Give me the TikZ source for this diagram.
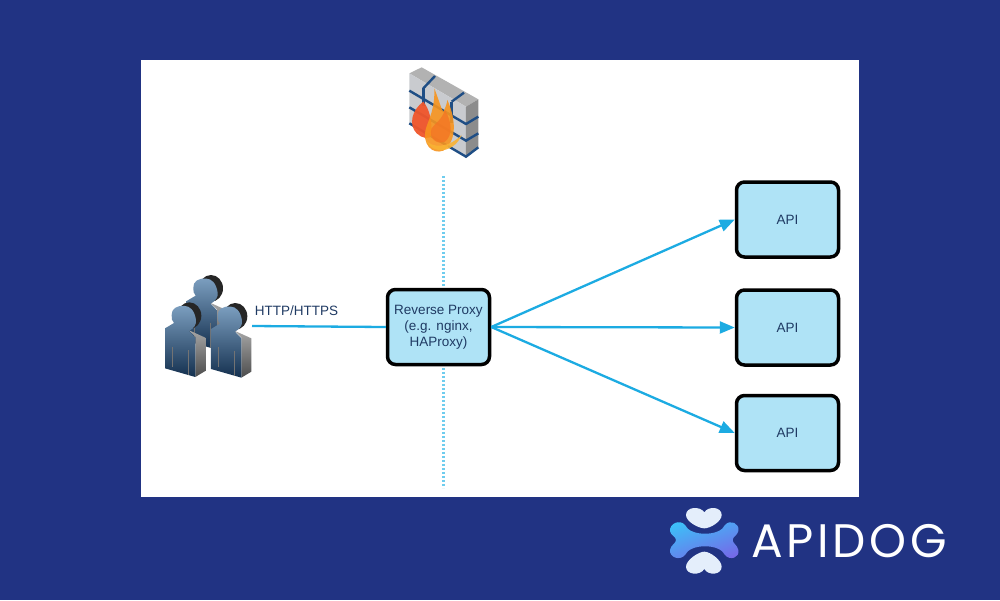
\documentclass[tikz,border=0pt]{standalone}
\usepackage{fontspec}
\setmainfont{Liberation Sans}
\newfontfamily\logofont[LetterSpace=8]{Poppins}
\usetikzlibrary{arrows.meta}

\definecolor{navy}{HTML}{213383}
\definecolor{linkblue}{HTML}{1CABE2}
\definecolor{dotblue}{HTML}{6FCDEE}
\definecolor{boxblue}{HTML}{AFE3F6}
\definecolor{textblue}{HTML}{1F3A63}
\definecolor{brick}{HTML}{C9CBCF}
\definecolor{brickline}{HTML}{1F4E85}
\definecolor{personlight}{HTML}{7C9FC0}
\definecolor{persondark}{HTML}{14304F}
\definecolor{flamered}{HTML}{F0562B}
\definecolor{flameorange}{HTML}{F7941E}
\definecolor{flameyellow}{HTML}{F9B233}
\definecolor{bonecyan}{HTML}{3DBFF8}
\definecolor{boneviolet}{HTML}{7569E8}
\definecolor{heartpale}{HTML}{E4EEFB}

\begin{document}
\begin{tikzpicture}[
    x=1pt, y=-1pt,
    box/.style={draw=black,fill=boxblue,rounded corners=8pt,line width=3.5pt,minimum width=102pt,minimum height=75pt,align=center,text=textblue,font=\fontsize{13.5}{16}\selectfont},
    link/.style={draw=linkblue,line width=2.3pt},
    arrow/.style={link,-{Triangle[length=15pt,width=12pt]}},
    mortar/.style={draw=brickline,line width=2.4pt},
    person/.pic={
        % extruded side, then the front
        \fill[black!85] (18,-8) ellipse [x radius=36, y radius=40];
        \shade[top color=black!35,bottom color=black!70] (15,35) -- (66,58) -- (66,158) -- (36,176) -- (36,55) -- cycle;
        \shade[top color=personlight,bottom color=persondark] (-28,14) -- (-55,30) -- (-55,150) -- (36,176) -- (36,58) -- (17,38)
            .. controls (32,30) and (40,18) .. (38,5)
            .. controls (34,-25) and (18,-37) .. (5,-37)
            .. controls (-20,-40) and (-36,-28) .. (-35,-10)
            .. controls (-36,0) and (-34,8) .. cycle;
        \draw[black!55,line width=.5pt] (-32,85) -- (-32,145) (16,95) -- (16,170);
    }
]
    % Canvas
    \useasboundingbox (0,0) rectangle (1000,600);
    \fill[navy] (0,0) rectangle (1000,600);
    \fill[white] (141,60) rectangle (859,497);

    %%%%%%%%%%%%%%%%%%%%%%%%%%%%%%%%%%%%%%%%%%%%%%%%%%%%%%%%%%%%%%%%%%%%%%%%%%%%%%%%%%%%

    % Dotted boundary, passes behind the proxy
    \coordinate (walltop) at (443,176);
    \coordinate (wallbottom) at (443,488);
    \draw[draw=dotblue,line width=3pt,dash pattern=on 2pt off 2pt] (walltop) -- (wallbottom);

    % Firewall
    \begin{scope}[shift={(390,60)},x=.3333pt,y=-.3333pt]
        \fill[black!30] (58,40) -- (95,22) -- (265,118) -- (228,140) -- cycle;
        \fill[brick] (58,40) -- (228,140) -- (228,290) -- (58,190) -- cycle;
        \fill[black!45] (228,140) -- (265,118) -- (265,262) -- (228,290) -- cycle;
        % courses of bricks
        \foreach \d in {52, 102} {
            \draw[mortar] (58,40+\d) -- (228,140+\d) -- (265,118+\d);
        }
        \draw[mortar] (58,190) -- (228,290) -- (265,262);
        \draw[mortar] (100,85) -- (135,48);
        \draw[mortar] (185,125) -- (222,98);
        \draw[mortar] (100,85) -- (100,138);
        \draw[mortar] (185,125) -- (185,190);
        % flames
        \fill[flamered,opacity=.95] (100,125) .. controls (65,150) and (55,195) .. (80,220) .. controls (95,235) and (120,240) .. (125,225) .. controls (125,180) and (120,150) .. cycle;
        \fill[flameorange,opacity=.9] (133,85) .. controls (150,130) and (155,150) .. (160,155) .. controls (165,145) and (170,135) .. (172,120) .. controls (195,170) and (205,240) .. (160,272) .. controls (125,285) and (95,250) .. (108,205) .. controls (115,180) and (135,150) .. cycle;
        \fill[flamered!50!flameorange,opacity=.8] (165,150) .. controls (185,185) and (190,225) .. (165,245) .. controls (140,255) and (115,235) .. (125,205) .. controls (135,190) and (155,180) .. cycle;
        \fill[flameyellow,opacity=.9] (215,225) .. controls (195,275) and (130,290) .. (108,240) .. controls (125,265) and (175,265) .. cycle;
    \end{scope}

    % People
    \begin{scope}[shift={(150,265)},x=.3333pt,y=-.3333pt]
        \pic at (165,78) {person};
        \pic at (100,160) {person};
        \pic at (238,162) {person};
    \end{scope}

    %%%%%%%%%%%%%%%%%%%%%%%%%%%%%%%%%%%%%%%%%%%%%%%%%%%%%%%%%%%%%%%%%%%%%%%%%%%%%%%%%%%%

    % Proxy and backends
    \coordinate (client) at (252,326);
    \node[box] (proxy) at (438.5,327) {Reverse Proxy\\(e.g. nginx,\\HAProxy)};
    \node[text=textblue,font=\fontsize{13.5}{16}\selectfont] (http) at (296.5,311) {HTTP/HTTPS};
    \draw[link] (client) -- (proxy.west);

    \foreach \n/\y in {1/219.5, 2/327.5, 3/433} {
        \node[box] (api\n) at (787.5,\y) {API};
        \draw[arrow] (proxy.east) -- (api\n.west);
    }

    %%%%%%%%%%%%%%%%%%%%%%%%%%%%%%%%%%%%%%%%%%%%%%%%%%%%%%%%%%%%%%%%%%%%%%%%%%%%%%%%%%%%

    % Logo
    \begin{scope}[shift={(650,495)},x=.3333pt,y=-.3333pt]
        \shade[left color=bonecyan,right color=boneviolet,shading angle=20]
            (105,90) .. controls (120,125) and (210,125) .. (225,90)
            .. controls (240,72) and (270,85) .. (265,108)
            .. controls (262,122) and (248,125) .. (248,135)
            .. controls (248,145) and (262,150) .. (265,165)
            .. controls (270,188) and (240,198) .. (225,180)
            .. controls (210,145) and (120,145) .. (105,180)
            .. controls (90,198) and (58,188) .. (60,165)
            .. controls (62,150) and (78,145) .. (78,135)
            .. controls (78,125) and (62,122) .. (60,108)
            .. controls (58,85) and (90,72) .. cycle;
        \fill[heartpale] (163,52) .. controls (175,32) and (215,35) .. (215,60)
            .. controls (215,80) and (180,100) .. (163,100)
            .. controls (146,100) and (108,80) .. (108,60)
            .. controls (108,35) and (150,32) .. cycle;
        \fill[heartpale] (163,222) .. controls (175,243) and (215,240) .. (215,215)
            .. controls (215,195) and (180,170) .. (163,170)
            .. controls (146,170) and (108,195) .. (108,215)
            .. controls (108,240) and (150,243) .. cycle;
    \end{scope}
    \node[text=white,font=\logofont\fontsize{47}{47}\selectfont,anchor=west,inner sep=0pt] (apidog) at (751,541) {APIDOG};
\end{tikzpicture}
\end{document}
